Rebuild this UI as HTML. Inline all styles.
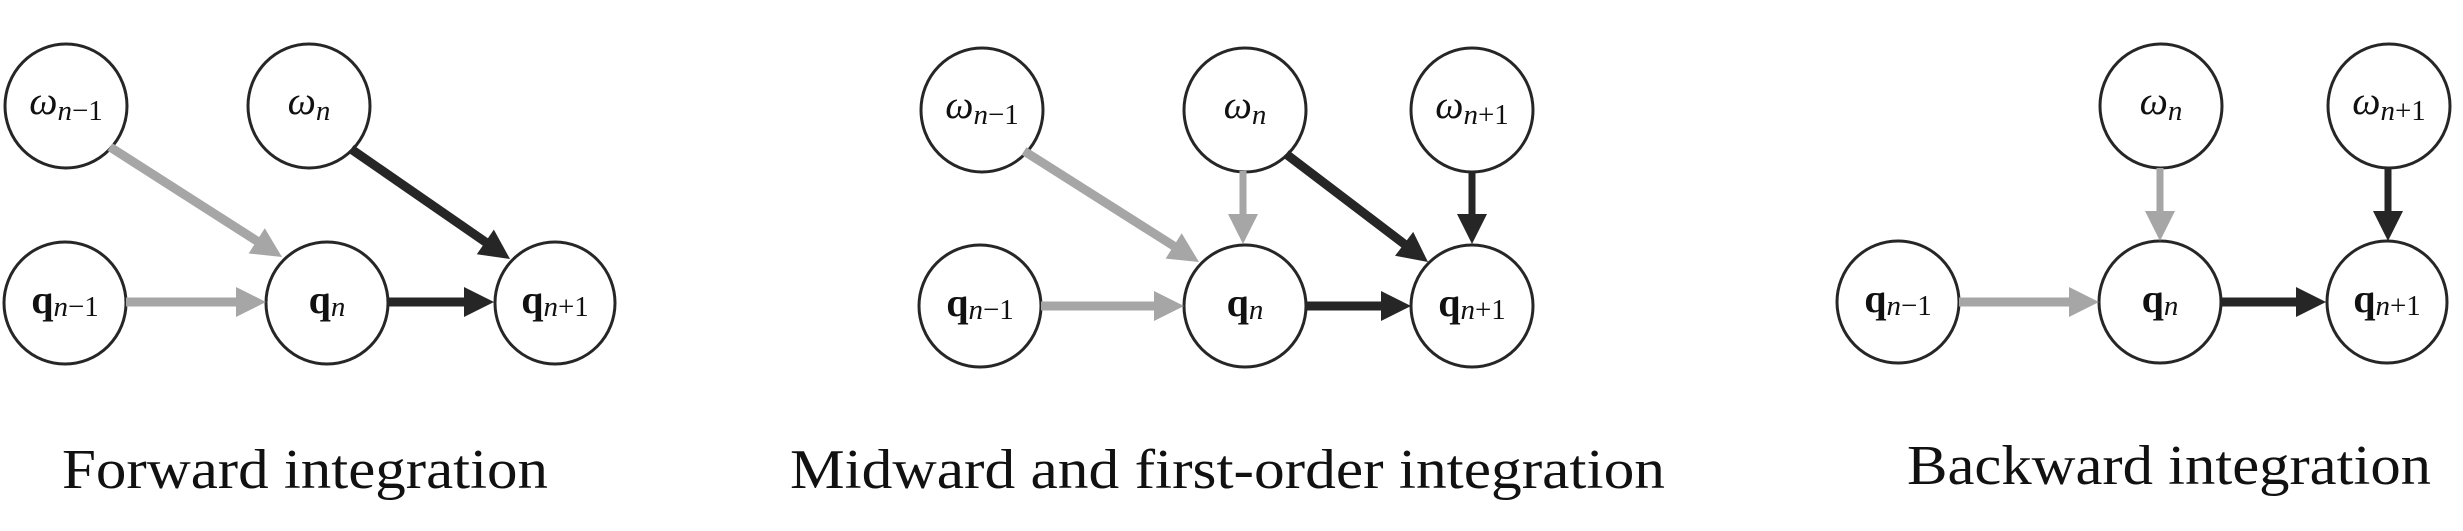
<!DOCTYPE html>
<html><head><meta charset="utf-8"><style>
html,body{margin:0;padding:0;background:#fff;}
svg{display:block;}
text{font-family:"Liberation Serif",serif;fill:#111;}
.t{font-size:56px;}
.m{font-size:40px;}
.s{font-size:29px;}
.b{font-weight:bold;font-style:normal;}
.i{font-style:italic;}
</style></head><body>
<svg id="s" width="2463" height="531" viewBox="0 0 2463 531" xmlns="http://www.w3.org/2000/svg">
<g fill="#fff" stroke="#262626" stroke-width="3">
<ellipse cx="66" cy="106" rx="61" ry="62"/>
<ellipse cx="309" cy="106" rx="61" ry="62"/>
<ellipse cx="65" cy="303" rx="61" ry="61"/>
<ellipse cx="327" cy="303" rx="61" ry="61"/>
<ellipse cx="555" cy="303" rx="60" ry="61"/>
<ellipse cx="982" cy="110" rx="61" ry="62"/>
<ellipse cx="1245" cy="110" rx="61" ry="62"/>
<ellipse cx="1472" cy="110" rx="61" ry="62"/>
<ellipse cx="980" cy="306" rx="61" ry="61"/>
<ellipse cx="1245" cy="306" rx="61" ry="61"/>
<ellipse cx="1472" cy="306" rx="61" ry="61"/>
<ellipse cx="2161" cy="106" rx="61" ry="62"/>
<ellipse cx="2389" cy="106" rx="61" ry="62"/>
<ellipse cx="1898" cy="302" rx="61" ry="61"/>
<ellipse cx="2160" cy="302" rx="61" ry="61"/>
<ellipse cx="2387" cy="302" rx="60" ry="61"/>
</g>
<g id="arrows"></g>
<text x="66" y="114" text-anchor="middle"><tspan class="m i">ω</tspan><tspan class="s i" dy="6">n</tspan><tspan class="s">−1</tspan></text>
<text x="309" y="114" text-anchor="middle"><tspan class="m i">ω</tspan><tspan class="s i" dy="6">n</tspan></text>
<text x="65" y="313" text-anchor="middle"><tspan class="m b">q</tspan><tspan class="s i" dy="3">n</tspan><tspan class="s">−1</tspan></text>
<text x="327" y="313" text-anchor="middle"><tspan class="m b">q</tspan><tspan class="s i" dy="3">n</tspan></text>
<text x="555" y="313" text-anchor="middle"><tspan class="m b">q</tspan><tspan class="s i" dy="3">n</tspan><tspan class="s">+1</tspan></text>
<text x="62" y="488" class="t" textLength="486" lengthAdjust="spacingAndGlyphs">Forward integration</text>
<text x="982" y="118" text-anchor="middle"><tspan class="m i">ω</tspan><tspan class="s i" dy="6">n</tspan><tspan class="s">−1</tspan></text>
<text x="1245" y="118" text-anchor="middle"><tspan class="m i">ω</tspan><tspan class="s i" dy="6">n</tspan></text>
<text x="1472" y="118" text-anchor="middle"><tspan class="m i">ω</tspan><tspan class="s i" dy="6">n</tspan><tspan class="s">+1</tspan></text>
<text x="980" y="316" text-anchor="middle"><tspan class="m b">q</tspan><tspan class="s i" dy="3">n</tspan><tspan class="s">−1</tspan></text>
<text x="1245" y="316" text-anchor="middle"><tspan class="m b">q</tspan><tspan class="s i" dy="3">n</tspan></text>
<text x="1472" y="316" text-anchor="middle"><tspan class="m b">q</tspan><tspan class="s i" dy="3">n</tspan><tspan class="s">+1</tspan></text>
<text x="790" y="488" class="t" textLength="875" lengthAdjust="spacingAndGlyphs">Midward and first-order integration</text>
<text x="2161" y="114" text-anchor="middle"><tspan class="m i">ω</tspan><tspan class="s i" dy="6">n</tspan></text>
<text x="2389" y="114" text-anchor="middle"><tspan class="m i">ω</tspan><tspan class="s i" dy="6">n</tspan><tspan class="s">+1</tspan></text>
<text x="1898" y="312" text-anchor="middle"><tspan class="m b">q</tspan><tspan class="s i" dy="3">n</tspan><tspan class="s">−1</tspan></text>
<text x="2160" y="312" text-anchor="middle"><tspan class="m b">q</tspan><tspan class="s i" dy="3">n</tspan></text>
<text x="2387" y="312" text-anchor="middle"><tspan class="m b">q</tspan><tspan class="s i" dy="3">n</tspan><tspan class="s">+1</tspan></text>
<text x="1907" y="484" class="t" textLength="524" lengthAdjust="spacingAndGlyphs">Backward integration</text>
</svg>
<script>
var G="#a6a6a6",K="#262626";
var A=[
[126,302,266,302,G,9],[388,302,494,302,K,9],[110,147,282,257,G,9],[351,149,510,259,K,9],
[1041,306,1184,306,G,9],[1306,306,1411,306,K,9],[1024,151,1199,262,G,9],[1243,171,1243,244,G,7],[1286,154,1428,262,K,9],[1472,171,1472,244,K,7],
[1959,302,2099,302,G,9],[2221,302,2326,302,K,9],[2160,168,2160,241,G,7],[2388,168,2388,241,K,7]
];
var g=document.getElementById("arrows"),h="";
A.forEach(function(a){
var x1=a[0],y1=a[1],x2=a[2],y2=a[3],c=a[4],w=a[5];
var dx=x2-x1,dy=y2-y1,L=Math.sqrt(dx*dx+dy*dy),ux=dx/L,uy=dy/L,px=-uy,py=ux;
var hl=30,hw=15;
var bx=x2-ux*hl,by=y2-uy*hl;
h+='<line x1="'+x1+'" y1="'+y1+'" x2="'+(bx+ux*2)+'" y2="'+(by+uy*2)+'" stroke="'+c+'" stroke-width="'+w+'"/>';
h+='<polygon fill="'+c+'" points="'+x2+','+y2+' '+(bx+px*hw)+','+(by+py*hw)+' '+(bx-px*hw)+','+(by-py*hw)+'"/>';
});
g.innerHTML=h;
</script>
</body></html>
